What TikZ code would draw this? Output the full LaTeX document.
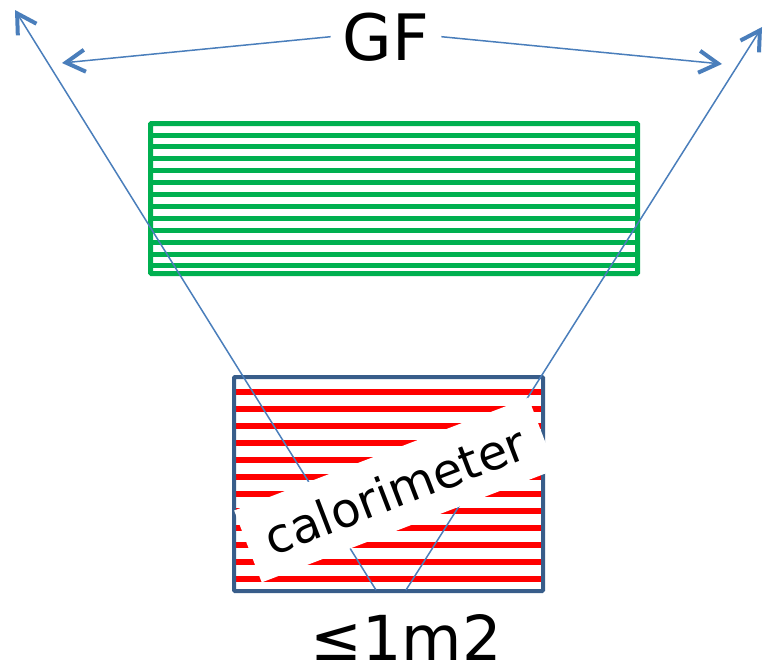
\documentclass[tikz,border=0pt]{standalone}
\usepackage{fontspec}
\setmainfont{DejaVu Sans}
\usetikzlibrary{arrows.meta}
\definecolor{gfgreen}{RGB}{0,176,80}
\definecolor{calored}{RGB}{255,0,0}
\definecolor{frameblue}{RGB}{56,93,138}
\definecolor{rayblue}{RGB}{74,126,187}
\tikzset{
  ray/.style={rayblue, line width=1.5pt,
    -{Straight Barb[length=19pt,width=22pt,line width=4pt]}},
  strip/.style={line width=5pt},
}
\begin{document}
\begin{tikzpicture}[x=1pt,y=-1pt]
  \useasboundingbox (0,0) rectangle (765,667);
  % GF
  \draw[gfgreen,strip,rounded corners=1pt] (150.5,123.5) rectangle (637.5,273.5);
  \foreach \k in {0,...,11}
    \draw[gfgreen,strip] (150,{135+11.9*\k}) -- (638,{135+11.9*\k});
  % calorimeter
  \foreach \k in {0,...,11}
    \draw[calored,strip,line width=5.5pt] (234,{392+17*\k}) -- (543,{392+17*\k});
  \draw[frameblue,line width=4pt,rounded corners=1pt] (234,377) rectangle (543,591);
  \coordinate (lfoot) at (376,590);
  \coordinate (rfoot) at (406,590);
  \coordinate (ltip) at (15,10);
  \coordinate (rtip) at (762,27);
  \draw[ray] (lfoot) -- (ltip);
  \draw[ray] (rfoot) -- (rtip);
  \node[fill=white,rotate=21,minimum width=315pt,minimum height=77pt,inner sep=0pt,
    font=\fontsize{48}{48}\selectfont] (calo) at (395,490) {calorimeter\hspace{16pt}};
  % labels
  \node[font=\fontsize{64}{64}\selectfont,inner xsep=12pt,anchor=base] (gf) at (386,60) {GF};
  \coordinate (gfl) at (62,63);
  \coordinate (gfr) at (722,64);
  \draw[ray] (gf.west) -- (gfl);
  \draw[ray] (gf.east) -- (gfr);
  \node[font=\fontsize{62}{62}\selectfont,anchor=base,inner sep=0pt] (area) at (406,660) {≤1m2};
\end{tikzpicture}
\end{document}
